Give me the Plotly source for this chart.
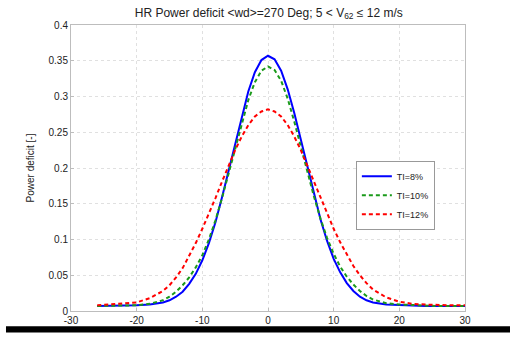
import plotly.graph_objects as go

x_vals = [-26, -24, -22, -20, -18, -16, -15, -14, -13, -12, -11, -10, -9, -8, -7, -6, -5, -4, -3, -2, -1, 0,
          1, 2, 3, 4, 5, 6, 7, 8, 9, 10, 11, 12, 13, 14, 15, 16, 18, 20, 22, 24, 26, 28, 30]

ti8 = [0.007, 0.007, 0.007, 0.008, 0.009, 0.012, 0.015, 0.020, 0.027, 0.038, 0.052, 0.071, 0.095, 0.124, 0.159, 0.196, 0.235, 0.273, 0.307, 0.334, 0.351, 0.357,
       0.352, 0.336, 0.310, 0.277, 0.240, 0.201, 0.163, 0.128, 0.098, 0.073, 0.054, 0.039, 0.028, 0.020, 0.015, 0.012, 0.009, 0.008, 0.007, 0.007, 0.007, 0.007, 0.007]

ti10 = [0.007, 0.007, 0.007, 0.008, 0.010, 0.015, 0.020, 0.027, 0.036, 0.047, 0.061, 0.078, 0.100, 0.127, 0.158, 0.192, 0.228, 0.263, 0.295, 0.320, 0.336, 0.342,
        0.337, 0.322, 0.297, 0.265, 0.230, 0.194, 0.160, 0.129, 0.102, 0.080, 0.062, 0.048, 0.037, 0.028, 0.021, 0.016, 0.011, 0.009, 0.008, 0.007, 0.007, 0.007, 0.007]

ti12 = [0.008, 0.009, 0.010, 0.012, 0.018, 0.028, 0.036, 0.047, 0.060, 0.077, 0.095, 0.115, 0.136, 0.158, 0.181, 0.203, 0.225, 0.244, 0.260, 0.272, 0.279, 0.282,
        0.279, 0.272, 0.260, 0.244, 0.225, 0.203, 0.181, 0.158, 0.136, 0.115, 0.096, 0.079, 0.063, 0.050, 0.039, 0.030, 0.019, 0.013, 0.010, 0.009, 0.008, 0.008, 0.008]

x_ticks = [-30, -20, -10, 0, 10, 20, 30]
y_ticks = [0, 0.05, 0.1, 0.15, 0.2, 0.25, 0.3, 0.35, 0.4]
y_tick_text = ["0", "0.05", "0.1", "0.15", "0.2", "0.25", "0.3", "0.35", "0.4"]

FONT = "Liberation Sans, Arial, sans-serif"

fig = go.Figure()
fig.add_trace(go.Scatter(x=x_vals, y=ti8, mode="lines", name="TI=8%",
                         line=dict(color="#0000ff", width=2)))
fig.add_trace(go.Scatter(x=x_vals, y=ti10, mode="lines", name="TI=10%",
                         line=dict(color="#1a9a1a", width=2, dash="4px,3px")))
fig.add_trace(go.Scatter(x=x_vals, y=ti12, mode="lines", name="TI=12%",
                         line=dict(color="#ff0000", width=2, dash="4px,3px")))

axis_common = dict(
    showline=True, linecolor="#bdbdbd", linewidth=1, mirror=True,
    ticks="inside", ticklen=3, tickcolor="#bdbdbd",
    showgrid=True, gridcolor="#e0e0e0", griddash="dot", gridwidth=1,
    zeroline=False,
    tickfont=dict(family=FONT, size=10, color="#222"),
)

fig.update_layout(
    width=510, height=338,
    margin=dict(l=71, r=45, t=25, b=22),
    paper_bgcolor="white", plot_bgcolor="white",
    title=dict(text="HR Power deficit &lt;wd&gt;=270 Deg; 5 &lt; V<sub>62</sub> ≤ 12 m/s",
               x=0.527, xanchor="center", y=0.975, yanchor="top",
               font=dict(family=FONT, size=12, color="#222")),
    xaxis=dict(range=[-30, 30], tickvals=x_ticks, ticktext=[str(v) for v in x_ticks],
               **axis_common),
    yaxis=dict(range=[0, 0.4], tickvals=y_ticks, ticktext=y_tick_text,
               title=dict(text="Power deficit [-]", standoff=12,
                          font=dict(family=FONT, size=10, color="#222")),
               **axis_common),
    legend=dict(x=0.723, y=0.525, xanchor="left", yanchor="top",
                bgcolor="white", bordercolor="#999", borderwidth=1,
                font=dict(family=FONT, size=9, color="#222"),
                itemwidth=30, tracegroupgap=0),
    showlegend=True,
    shapes=[dict(type="rect", xref="paper", yref="paper", x0=-0.165, x1=1.3, y0=-0.0756, y1=-0.053,
                 fillcolor="black", line=dict(width=0))],
)

fig.write_html("out.html")
